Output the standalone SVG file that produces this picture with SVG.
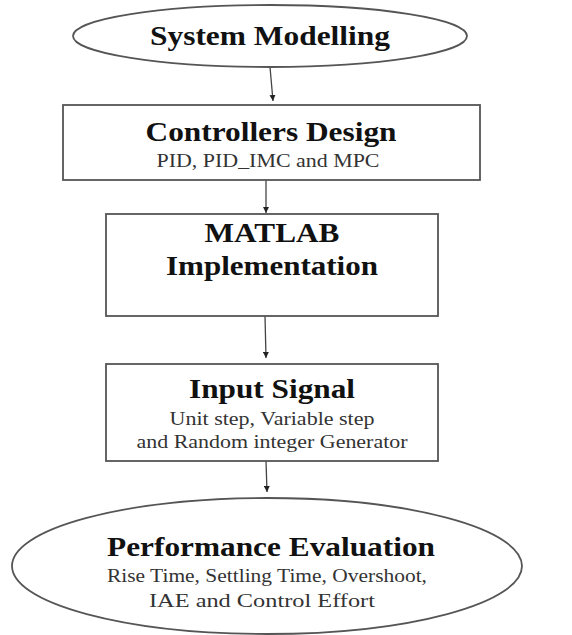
<svg xmlns="http://www.w3.org/2000/svg" width="572" height="635" viewBox="0 0 572 635">
<defs>
<style>
.box{fill:#fff;stroke:#555;stroke-width:1.8}
.t{font-family:"Liberation Serif","Times New Roman",serif;font-weight:bold;font-size:27px;fill:#111;text-anchor:middle}
.s{font-family:"Liberation Serif","Times New Roman",serif;font-size:18px;fill:#333;text-anchor:middle}
.c{stroke:#444;stroke-width:1.3;fill:none}
</style>
<marker id="ah" viewBox="0 0 10 10" refX="10" refY="5" markerWidth="6" markerHeight="6" markerUnits="userSpaceOnUse" orient="auto">
<path d="M0,0 L10,5 L0,10 z" fill="#222"/>
</marker>
</defs>
<rect width="572" height="635" fill="#fff"/>
<g id="connectors">
<line class="c" x1="270" y1="67" x2="273" y2="101" marker-end="url(#ah)"/>
<line class="c" x1="266" y1="180" x2="266" y2="213" marker-end="url(#ah)"/>
<line class="c" x1="265" y1="316" x2="266" y2="358" marker-end="url(#ah)"/>
<line class="c" x1="266" y1="461" x2="267" y2="492" marker-end="url(#ah)"/>
</g>
<g id="system-modelling">
<ellipse class="box" cx="270" cy="36" rx="197" ry="31"/>
<text class="t" x="270" y="45" textLength="240" lengthAdjust="spacingAndGlyphs">System Modelling</text>
</g>
<g id="controllers-design">
<rect class="box" x="63" y="105" width="417" height="75"/>
<text class="t" x="271" y="141" textLength="251" lengthAdjust="spacingAndGlyphs">Controllers Design</text>
<text class="s" x="268" y="167" textLength="223" lengthAdjust="spacingAndGlyphs">PID, PID_IMC and MPC</text>
</g>
<g id="matlab-implementation">
<rect class="box" x="106" y="214" width="332" height="102"/>
<text class="t" x="272" y="242" textLength="135" lengthAdjust="spacingAndGlyphs">MATLAB</text>
<text class="t" x="272" y="275" textLength="212" lengthAdjust="spacingAndGlyphs">Implementation</text>
</g>
<g id="input-signal">
<rect class="box" x="106" y="364" width="332" height="97"/>
<text class="t" x="272" y="398" textLength="166" lengthAdjust="spacingAndGlyphs">Input Signal</text>
<text class="s" x="272" y="425" textLength="205" lengthAdjust="spacingAndGlyphs">Unit step, Variable step</text>
<text class="s" x="272" y="448" textLength="271" lengthAdjust="spacingAndGlyphs">and Random integer Generator</text>
</g>
<g id="performance-evaluation">
<ellipse class="box" cx="267" cy="566" rx="255" ry="68"/>
<text class="t" x="271" y="556" textLength="328" lengthAdjust="spacingAndGlyphs">Performance Evaluation</text>
<text class="s" x="267" y="582" textLength="320" lengthAdjust="spacingAndGlyphs">Rise Time, Settling Time, Overshoot,</text>
<text class="s" x="262" y="607" textLength="226" lengthAdjust="spacingAndGlyphs">IAE and Control Effort</text>
</g>
</svg>
